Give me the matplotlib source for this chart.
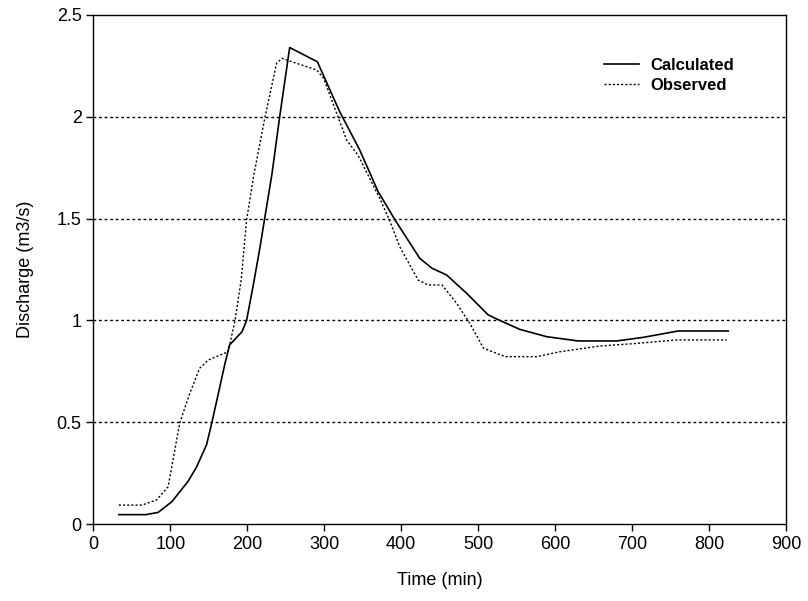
import matplotlib.pyplot as plt
from matplotlib.ticker import FormatStrFormatter

# Calculated hydrograph
calc_t = [33, 68, 84, 102, 123, 134, 147, 154, 171, 177, 193, 199, 208, 216, 232,
          242, 255, 291, 320, 346, 370, 392, 424, 440, 459, 485, 513, 528, 554,
          589, 630, 680, 715, 760, 825]
calc_q = [0.046, 0.046, 0.057, 0.11, 0.21, 0.28, 0.39, 0.50, 0.79, 0.88, 0.944, 1.0,
          1.18, 1.35, 1.72, 2.0, 2.34, 2.27, 2.025, 1.837, 1.632, 1.493, 1.305, 1.256,
          1.223, 1.133, 1.027, 1.0, 0.956, 0.92, 0.899, 0.899, 0.917, 0.948, 0.948]

# Observed hydrograph
obs_t = [33, 63, 82, 97, 112, 125, 138, 149, 175, 184, 192, 199, 208, 223, 238,
         245, 258, 290, 299, 329, 344, 372, 385, 398, 422, 435, 453, 472, 489,
         507, 535, 576, 606, 658, 706, 758, 823]
obs_q = [0.093, 0.093, 0.118, 0.183, 0.495, 0.64, 0.765, 0.805, 0.846, 1.0, 1.2,
         1.493, 1.706, 2.0, 2.263, 2.287, 2.27, 2.23, 2.19, 1.886, 1.81, 1.6, 1.49,
         1.362, 1.198, 1.174, 1.174, 1.084, 0.986, 0.863, 0.822, 0.822, 0.846, 0.874,
         0.887, 0.904, 0.904]

plt.rcParams['font.family'] = ['Liberation Sans', 'DejaVu Sans']

fig = plt.figure(figsize=(8.08, 6.01), dpi=100)
ax = fig.add_axes([0.1157, 0.1281, 0.857, 0.847])

for q in [0.5, 1.0, 1.5, 2.0]:
    ax.axhline(q, color='black', linewidth=1.0, linestyle=(0, (2, 2)), zorder=1)

ax.plot(calc_t, calc_q, color='black', linewidth=1.2, label='Calculated', zorder=3)
ax.plot(obs_t, obs_q, color='black', linewidth=1.0, linestyle=(0, (1.5, 1.5)),
        label='Observed', zorder=3)

ax.set_xlim(0, 900)
ax.set_ylim(0, 2.5)
ax.set_xticks(range(0, 901, 100))
ax.set_yticks([0, 0.5, 1, 1.5, 2, 2.5])
ax.yaxis.set_major_formatter(FormatStrFormatter('%g'))
ax.tick_params(direction='out', length=5, width=1, labelsize=13, top=False, right=False)

for s in ax.spines.values():
    s.set_linewidth(1.0)

ax.set_xlabel('Time (min)', fontsize=13, labelpad=14)
ax.set_ylabel('Discharge (m3/s)', fontsize=13, labelpad=16)

leg = ax.legend(loc='upper left', bbox_to_anchor=(0.715, 0.945), frameon=False,
                handlelength=2.1, handletextpad=0.7, labelspacing=0.3,
                prop={'weight': 'bold', 'size': 12})

fig.savefig('out.png', dpi=100)
